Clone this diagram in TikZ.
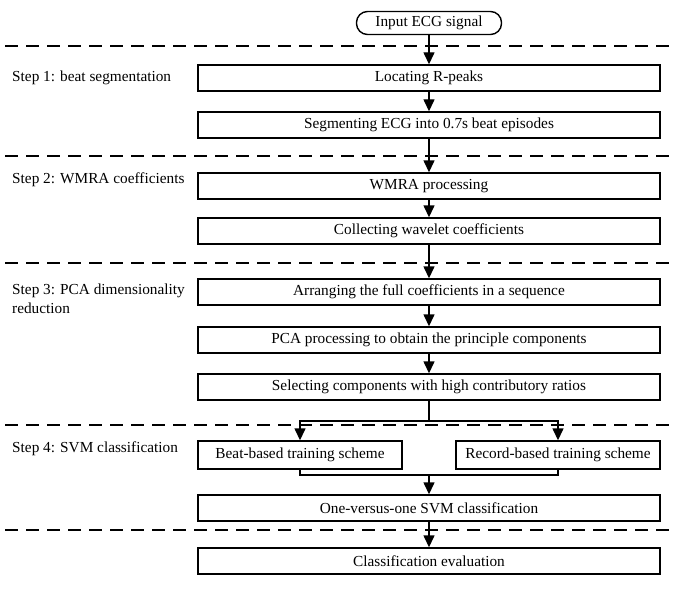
\documentclass[tikz,border=0pt]{standalone}
\usepackage{fontspec}
\setmainfont{Liberation Serif}
\usetikzlibrary{arrows.meta}
\begin{document}
\begin{tikzpicture}[x=1pt,y=-1pt,
  stepbox/.style={draw,line width=1.4pt,minimum width=462pt,minimum height=26pt,inner sep=0pt,font=\fontsize{15.3}{17}\selectfont},
  halfbox/.style={draw,line width=1.4pt,minimum width=204pt,minimum height=28pt,inner sep=0pt,font=\fontsize{15.3}{17}\selectfont},
  sep/.style={line width=1.3pt,dash pattern=on 13pt off 8pt},
  arr/.style={line width=1.4pt,-{Triangle[length=12pt,width=11pt]}},
  ln/.style={line width=1.4pt},
  lab/.style={anchor=west,inner sep=0pt,align=left,font=\fontsize{15.3}{19}\selectfont}]
\useasboundingbox (0,0) rectangle (682,599);
\node[draw,line width=1.4pt,rounded corners=11pt,minimum width=145pt,minimum height=23pt,inner sep=0pt,font=\fontsize{15.3}{17}\selectfont] (in) at (429,23) {Input ECG signal};
\node[stepbox] (r) at (429,78) {Locating R-peaks};
\node[stepbox] (seg) at (429,125) {Segmenting ECG into 0.7s beat episodes};
\node[stepbox] (w) at (429,186) {WMRA processing};
\node[stepbox] (c) at (429,231) {Collecting wavelet coefficients};
\node[stepbox] (a) at (429,292) {Arranging the full coefficients in a sequence};
\node[stepbox] (p) at (429,340) {PCA processing to obtain the principle components};
\node[stepbox] (s) at (429,387) {Selecting components with high contributory ratios};
\node[halfbox] (b) at (300,455) {Beat-based training scheme};
\node[halfbox] (rec) at (558,455) {Record-based training scheme};
\node[stepbox] (o) at (429,508) {One-versus-one SVM classification};
\node[stepbox] (e) at (429,561) {Classification evaluation};

\foreach \yy in {46,156,263,425,530} \draw[sep] (5,\yy) -- (672,\yy);

\node[lab] (l1) at (12,78) {Step 1: beat segmentation};
\node[lab] (l2) at (12,180) {Step 2: WMRA coefficients};
\node[lab] (l3) at (12,299) {Step 3: PCA dimensionality\\reduction};
\node[lab] (l4) at (12,449) {Step 4: SVM classification};

\draw[arr] (in) -- (r);
\draw[arr] (r) -- (seg);
\draw[arr] (seg) -- (w);
\draw[arr] (w) -- (c);
\draw[arr] (c) -- (a);
\draw[arr] (a) -- (p);
\draw[arr] (p) -- (s);
\coordinate (sp) at (429,421);
\draw[ln] (s.south) -- (sp);
\draw[arr] (sp) -| (b.north);
\draw[arr] (sp) -| (rec.north);
\coordinate (mg) at (429,475);
\draw[ln] (b.south) |- (mg);
\draw[ln] (rec.south) |- (mg);
\draw[arr] (mg) -- (o.north);
\draw[arr] (o) -- (e);
\end{tikzpicture}
\end{document}
